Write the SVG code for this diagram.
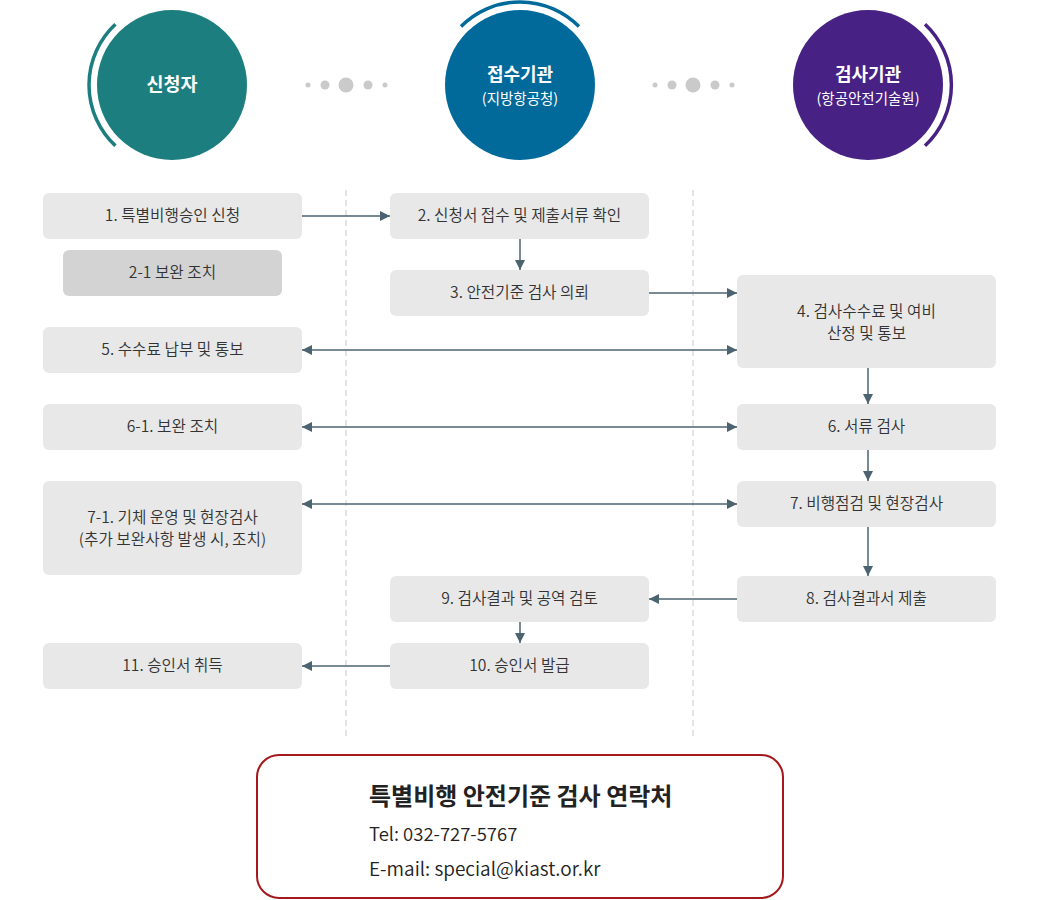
<svg xmlns="http://www.w3.org/2000/svg" width="1040" height="900" viewBox="0 0 1040 900">
<style>
text{font-family:"Noto Sans CJK KR","Noto Sans",sans-serif;}
.box{fill:#e8e8e8;}
.box2{fill:#d3d3d3;}
.lbl{font-size:15.7px;fill:#333;text-anchor:middle;font-weight:350;}
.ct{fill:#fff;text-anchor:middle;}
.dot{fill:#cacaca;}
.dash{stroke:#c8c8c8;stroke-width:1;stroke-dasharray:6 4;fill:none;}
.conn{stroke:#4b6470;stroke-width:1.5;fill:none;}
.arc{fill:none;stroke-width:3.5;}
</style>
<defs>
<marker id="ah" viewBox="0 0 10 10" refX="10" refY="5" markerWidth="10" markerHeight="11" markerUnits="userSpaceOnUse" orient="auto-start-reverse">
<path d="M0,0 L10,5 L0,10 Z" fill="#4b6470"/>
</marker>
</defs>
<rect width="1040" height="900" fill="#fff"/>

<g id="actor-applicant">
<circle cx="172" cy="85" r="75" fill="#1c7e7f"/>
<path class="arc" stroke="#1c7e7f" d="M115.4,24.3 A83,83 0 0 0 115.4,145.7"/>
<text class="ct" x="172" y="91" font-size="18.5" font-weight="bold">신청자</text>
</g>
<g id="actor-reception">
<circle cx="520" cy="85" r="75" fill="#016a9b"/>
<path class="arc" stroke="#016a9b" d="M461,26.6 A83,83 0 0 1 579,26.6"/>
<text class="ct" x="520" y="81" font-size="18" font-weight="bold">접수기관</text>
<text class="ct" x="520" y="104" font-size="14.5">(지방항공청)</text>
</g>
<g id="actor-inspection">
<circle cx="868" cy="85" r="75" fill="#472284"/>
<path class="arc" stroke="#472284" d="M925,24.3 A83,83 0 0 1 925,145.7"/>
<text class="ct" x="868" y="81" font-size="18" font-weight="bold">검사기관</text>
<text class="ct" x="868" y="104" font-size="14.5">(항공안전기술원)</text>
</g>

<g id="dots">
<circle class="dot" cx="308" cy="85" r="2.5"/>
<circle class="dot" cx="325" cy="85" r="4.5"/>
<circle class="dot" cx="346" cy="85" r="7.5"/>
<circle class="dot" cx="368" cy="85" r="4.5"/>
<circle class="dot" cx="385" cy="85" r="2.5"/>
<circle class="dot" cx="655" cy="85" r="2.5"/>
<circle class="dot" cx="672" cy="85" r="4.5"/>
<circle class="dot" cx="693" cy="85" r="7.5"/>
<circle class="dot" cx="715" cy="85" r="4.5"/>
<circle class="dot" cx="732" cy="85" r="2.5"/>
</g>

<g id="lanes">
<line class="dash" x1="346" y1="190" x2="346" y2="737"/>
<line class="dash" x1="693" y1="190" x2="693" y2="737"/>
</g>

<g id="n1"><rect class="box" x="43" y="193" width="259" height="46" rx="6"/><text class="lbl" x="172.5" y="221">1. 특별비행승인 신청</text></g>
<g id="n2-1"><rect class="box2" x="63" y="250" width="219" height="46" rx="6"/><text class="lbl" x="172.5" y="278">2-1 보완 조치</text></g>
<g id="n5"><rect class="box" x="43" y="327" width="259" height="46" rx="6"/><text class="lbl" x="172.5" y="355">5. 수수료 납부 및 통보</text></g>
<g id="n6-1"><rect class="box" x="43" y="404" width="259" height="46" rx="6"/><text class="lbl" x="172.5" y="432">6-1. 보완 조치</text></g>
<g id="n7-1"><rect class="box" x="43" y="481" width="259" height="94" rx="6"/><text class="lbl" x="172.5" y="523">7-1. 기체 운영 및 현장검사</text><text class="lbl" x="172.5" y="545">(추가 보완사항 발생 시, 조치)</text></g>
<g id="n11"><rect class="box" x="43" y="643" width="259" height="46" rx="6"/><text class="lbl" x="172.5" y="671">11. 승인서 취득</text></g>

<g id="n2"><rect class="box" x="390" y="193" width="259" height="46" rx="6"/><text class="lbl" x="519.5" y="221">2. 신청서 접수 및 제출서류 확인</text></g>
<g id="n3"><rect class="box" x="390" y="270" width="259" height="46" rx="6"/><text class="lbl" x="519.5" y="298">3. 안전기준 검사 의뢰</text></g>
<g id="n9"><rect class="box" x="390" y="576" width="259" height="46" rx="6"/><text class="lbl" x="519.5" y="604">9. 검사결과 및 공역 검토</text></g>
<g id="n10"><rect class="box" x="390" y="643" width="259" height="46" rx="6"/><text class="lbl" x="519.5" y="671">10. 승인서 발급</text></g>

<g id="n4"><rect class="box" x="737" y="275" width="259" height="93" rx="6"/><text class="lbl" x="866.5" y="317">4. 검사수수료 및 여비</text><text class="lbl" x="866.5" y="339">산정 및 통보</text></g>
<g id="n6"><rect class="box" x="737" y="404" width="259" height="46" rx="6"/><text class="lbl" x="866.5" y="432">6. 서류 검사</text></g>
<g id="n7"><rect class="box" x="737" y="481" width="259" height="46" rx="6"/><text class="lbl" x="866.5" y="509">7. 비행점검 및 현장검사</text></g>
<g id="n8"><rect class="box" x="737" y="576" width="259" height="46" rx="6"/><text class="lbl" x="866.5" y="604">8. 검사결과서 제출</text></g>

<g id="connectors">
<line class="conn" x1="302" y1="216" x2="390" y2="216" marker-end="url(#ah)"/>
<line class="conn" x1="520" y1="239" x2="520" y2="270" marker-end="url(#ah)"/>
<line class="conn" x1="649" y1="293" x2="737" y2="293" marker-end="url(#ah)"/>
<line class="conn" x1="302" y1="350" x2="737" y2="350" marker-start="url(#ah)" marker-end="url(#ah)"/>
<line class="conn" x1="868" y1="368" x2="868" y2="404" marker-end="url(#ah)"/>
<line class="conn" x1="302" y1="427" x2="737" y2="427" marker-start="url(#ah)" marker-end="url(#ah)"/>
<line class="conn" x1="868" y1="450" x2="868" y2="481" marker-end="url(#ah)"/>
<line class="conn" x1="302" y1="504" x2="737" y2="504" marker-start="url(#ah)" marker-end="url(#ah)"/>
<line class="conn" x1="868" y1="527" x2="868" y2="576" marker-end="url(#ah)"/>
<line class="conn" x1="737" y1="599" x2="649" y2="599" marker-end="url(#ah)"/>
<line class="conn" x1="520" y1="622" x2="520" y2="643" marker-end="url(#ah)"/>
<line class="conn" x1="390" y1="666" x2="302" y2="666" marker-end="url(#ah)"/>
</g>

<g id="contact">
<rect x="257" y="755" width="526" height="143" rx="22" fill="#fff" stroke="#a3191c" stroke-width="2"/>
<text x="369" y="805" font-size="24" font-weight="bold" fill="#222">특별비행 안전기준 검사 연락처</text>
<text x="369" y="841" font-size="18.5" fill="#222" font-weight="350">Tel: 032-727-5767</text>
<text x="369" y="876" font-size="19" fill="#222" font-weight="350">E-mail: special@kiast.or.kr</text>
</g>
</svg>
